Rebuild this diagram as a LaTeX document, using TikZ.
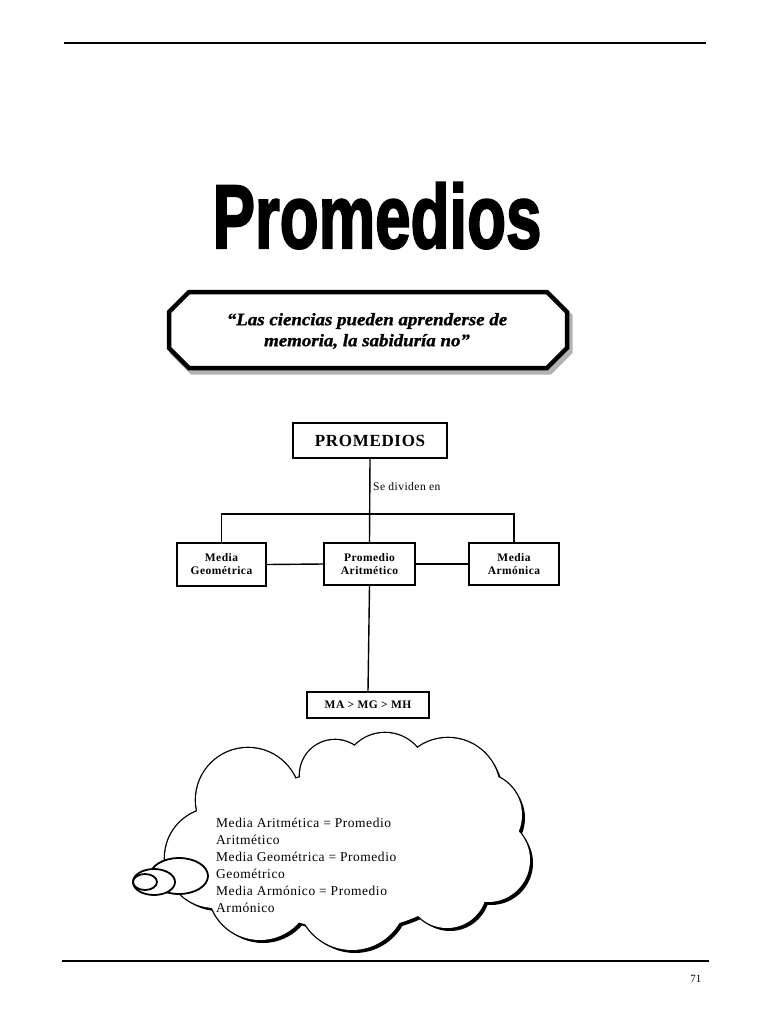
\documentclass[tikz,border=0pt]{standalone}
\usepackage{fontspec}
\setmainfont{Liberation Serif}
\newfontfamily\titlefont{Liberation Sans}[FakeBold=2.5]
\newfontfamily\quotefont{Liberation Serif}[FakeBold=1.2]
\newfontfamily\spacedfont{Liberation Serif}[LetterSpace=4]
\usetikzlibrary{positioning}
\begin{document}
\begin{tikzpicture}[x=1pt,y=-1pt,
  rule/.style={line width=1.6pt},
  boxline/.style={line width=1.4pt},
  catbox/.style={draw,boxline,fill=white,inner sep=0pt,align=center,
     font=\fontsize{11.5}{13}\selectfont\bfseries\spacedfont},
  cloudpart/.style={line width=2.6pt},
  tailpart/.style={draw,line width=1.8pt,fill=white}]
\useasboundingbox (0,0) rectangle (768,1024);
% rules
\coordinate (tl) at (64,43); \coordinate (tr) at (706,43);
\draw[rule] (tl) -- (tr);
\coordinate (bl) at (62,961); \coordinate (br) at (709,961);
\draw[rule] (bl) -- (br);
\node[anchor=base east,font=\fontsize{11}{13}\selectfont] (pagenum) at (705,982) {71};
% title
\node[anchor=base,inner sep=0pt] (title) at (377,248)
  {\scalebox{0.74}[1.05]{\titlefont\bfseries\fontsize{86}{90}\selectfont Promedios}};
% quote box
\draw[line width=5pt,gray!60,line join=miter] (192,296) -- (550,296) -- (570,316) -- (570,352) -- (550,372) -- (192,372) -- (172,352) -- (172,316) -- cycle;
\draw[line width=4.5pt,fill=white,line join=miter] (189,292) -- (547,292) -- (567,312) -- (567,348) -- (547,368) -- (189,368) -- (169,348) -- (169,312) -- cycle;
\node[align=center,font=\fontsize{17.5}{21}\selectfont\quotefont\bfseries\itshape] (quote) at (367,331)
  {\scalebox{1.08}[1]{“Las ciencias pueden aprenderse de}\\\scalebox{1.08}[1]{memoria, la sabiduría no”}};
% tree
\node[draw,boxline,minimum width=154pt,minimum height=35pt,inner sep=0pt,
  font=\fontsize{17}{19}\selectfont\bfseries\spacedfont] (prom) at (370,440.5) {PROMEDIOS};
\node[catbox,minimum width=89pt,minimum height=43pt] (mg) at (221.5,564.5) {Media\\Geométrica};
\node[catbox,minimum width=91pt,minimum height=42pt] (pa) at (369.5,564) {Promedio\\Aritmético};
\node[catbox,minimum width=90pt,minimum height=42pt] (mar) at (514,564) {Media\\Armónica};
\node[catbox,minimum width=122pt,minimum height=26pt] (mh) at (368,705) {MA > MG > MH};
\coordinate (bar) at (369.5,514);
\draw[boxline] (prom.south) -- (pa.north);
\draw[boxline] (mg.north) |- (bar) -| (mar.north);
\draw[boxline] (mg.east) -- (pa.west);
\draw[boxline] (pa.east) -- (mar.west);
\draw[boxline] (pa.south) -- (mh.north);
\node[anchor=west,inner sep=0pt,font=\fontsize{11.5}{13}\selectfont\spacedfont] (sediv) at (373,487) {Se dividen en};
% cloud: shadow, outline, fill
\begin{scope}[shift={(3,3)}]
\foreach \cx/\cy/\rx/\ry in {248/800/52/52,335/775/35/35,385/775/42/42,448/790/52/52,480/815/42/42,488/860/42/42,447/888/40/40,352/895/55/55,260/888/52/52,215/858/50/50,350/850/120/80}
  \fill (\cx,\cy) ellipse ({\rx} and {\ry});
\end{scope}
\foreach \cx/\cy/\rx/\ry in {248/800/52/52,335/775/35/35,385/775/42/42,448/790/52/52,480/815/42/42,488/860/42/42,447/888/40/40,352/895/55/55,260/888/52/52,215/858/50/50,350/850/120/80}
  \draw[cloudpart] (\cx,\cy) ellipse ({\rx} and {\ry});
\foreach \cx/\cy/\rx/\ry in {248/800/52/52,335/775/35/35,385/775/42/42,448/790/52/52,480/815/42/42,488/860/42/42,447/888/40/40,352/895/55/55,260/888/52/52,215/858/50/50,350/850/120/80}
  \fill[white] (\cx,\cy) ellipse ({\rx} and {\ry});
% tail bubbles
\draw[tailpart] (179,876) ellipse (29 and 18);
\draw[tailpart] (154,882) ellipse (21 and 13);
\draw[tailpart] (145,882) ellipse (12 and 8);
% cloud text
\node[anchor=north west,align=left,inner sep=0pt,
  font=\fontsize{13.5}{17}\selectfont\spacedfont] (cloudtext) at (216,818)
  {Media Aritmética = Promedio\\Aritmético\\Media Geométrica = Promedio\\Geométrico\\Media Armónico = Promedio\\Armónico};
\end{tikzpicture}
\end{document}
